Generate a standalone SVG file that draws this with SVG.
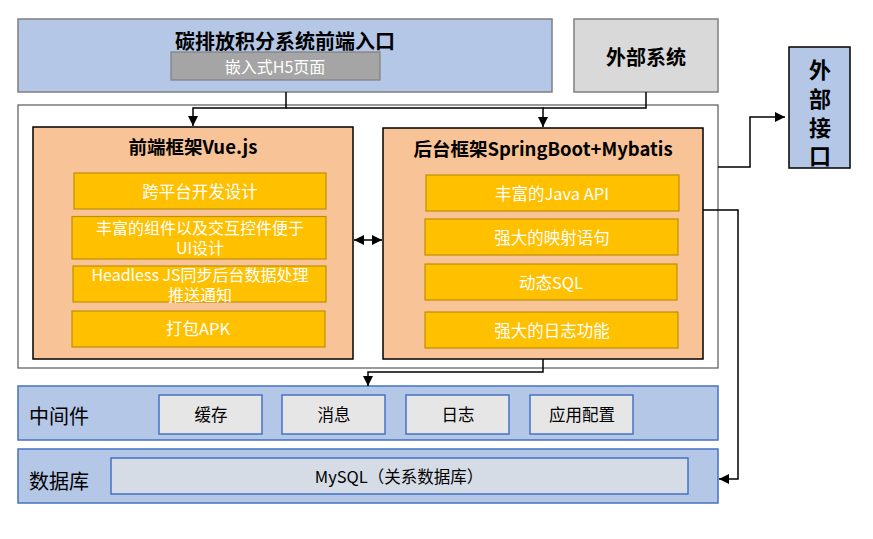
<svg xmlns="http://www.w3.org/2000/svg" width="873" height="539" viewBox="0 0 873 539">
<defs>
<marker id="ah" markerUnits="userSpaceOnUse" markerWidth="12" markerHeight="12" viewBox="0 0 12 12" refX="11" refY="6" orient="auto-start-reverse">
<path d="M1,1 L11,6 L1,11 Z" fill="#000"/>
</marker>
</defs>
<style>
text{font-family:"Microsoft YaHei","Noto Sans CJK SC","Noto Sans",sans-serif;text-anchor:middle;dominant-baseline:central}
.band{fill:#B4C7E7;stroke:#4472C4;stroke-width:1.5}
.gbox{stroke:#7F7F7F;stroke-width:1.5}
.panel{fill:#F8C396;stroke:#000;stroke-width:1.5}
.item{fill:#FFC000;stroke:#BF9000;stroke-width:1.2}
.it{fill:#fff;font-size:16.5px}
.it2{fill:#fff;font-size:16px}
.ttl{font-weight:bold;fill:#000}
.mid{fill:#E7E6E6;stroke:#4472C4;stroke-width:1.5}
.mt{font-size:16.5px;fill:#000}
.conn{fill:none;stroke:#000;stroke-width:1.5}
</style>
<g id="frontend-entry">
<rect x="18" y="19" width="534" height="73" class="gbox" fill="#B4C7E7"/>
<text x="285" y="40" class="ttl" font-size="20">碳排放积分系统前端入口</text>
<rect x="171" y="52" width="209" height="28" fill="#A5A5A5" stroke="#7F7F7F" stroke-width="1.2"/>
<text x="275" y="66" font-size="16" fill="#fff">嵌入式H5页面</text>
</g>
<g id="external-system">
<rect x="574" y="19" width="144" height="73" class="gbox" fill="#D9D9D9"/>
<text x="646" y="56" class="ttl" font-size="20">外部系统</text>
</g>
<g id="external-interface">
<rect x="789" y="47" width="61" height="121" fill="#B4C7E7" stroke="#000" stroke-width="1.5"/>
<text x="820" y="68" class="ttl" font-size="22">外</text>
<text x="820" y="97" class="ttl" font-size="22">部</text>
<text x="820" y="126" class="ttl" font-size="22">接</text>
<text x="820" y="154" class="ttl" font-size="22">口</text>
</g>
<g id="app-container">
<rect x="18" y="105" width="700" height="263" fill="#fff" stroke="#595959" stroke-width="1.2"/>
</g>
<g id="vue-frontend">
<rect x="33" y="127" width="320" height="232" class="panel"/>
<text x="193" y="146" class="ttl" font-size="18.5">前端框架Vue.js</text>
<rect x="74" y="173" width="252" height="36" class="item"/>
<text x="200" y="191" class="it">跨平台开发设计</text>
<rect x="72" y="216.5" width="254" height="42.5" class="item"/>
<text x="200" y="227" class="it2">丰富的组件以及交互控件便于</text>
<text x="200" y="247" class="it2">UI设计</text>
<rect x="73" y="266" width="253" height="36" class="item"/>
<text x="200" y="274" class="it2">Headless JS同步后台数据处理</text>
<text x="200" y="294" class="it2">推送通知</text>
<rect x="72" y="311" width="253" height="36" class="item"/>
<text x="198" y="328" class="it">打包APK</text>
</g>
<g id="springboot-backend">
<rect x="383" y="128" width="320" height="231" class="panel"/>
<text x="543" y="148" class="ttl" font-size="18.5">后台框架SpringBoot+Mybatis</text>
<rect x="426" y="175" width="253" height="36" class="item"/>
<text x="552" y="193" class="it">丰富的Java API</text>
<rect x="425" y="219" width="253" height="36" class="item"/>
<text x="552" y="237" class="it">强大的映射语句</text>
<rect x="425" y="264" width="252" height="36" class="item"/>
<text x="551" y="282" class="it">动态SQL</text>
<rect x="425" y="312" width="253" height="36" class="item"/>
<text x="552" y="330" class="it">强大的日志功能</text>
</g>
<g id="middleware">
<rect x="18" y="386" width="700" height="54" class="band"/>
<text x="59" y="415" font-size="20" fill="#000">中间件</text>
<rect x="159" y="395" width="103" height="39" class="mid"/>
<text x="211" y="414" class="mt">缓存</text>
<rect x="282" y="395" width="103" height="39" class="mid"/>
<text x="334" y="414" class="mt">消息</text>
<rect x="406" y="395" width="103" height="39" class="mid"/>
<text x="458" y="414" class="mt">日志</text>
<rect x="530" y="395" width="103" height="39" class="mid"/>
<text x="582" y="414" class="mt">应用配置</text>
</g>
<g id="database">
<rect x="18" y="449" width="700" height="54" class="band"/>
<text x="59" y="480" font-size="20" fill="#000">数据库</text>
<rect x="111" y="458" width="577" height="36" fill="#D6DCE5" stroke="#4472C4" stroke-width="1.5"/>
<text x="399" y="476" class="mt">MySQL（关系数据库）</text>
</g>
<g id="connectors">
<path d="M286,92 V108 H193 V126" class="conn" marker-end="url(#ah)"/>
<path d="M286,108 H543 V127" class="conn" marker-end="url(#ah)"/>
<path d="M646,92 V108 H543" class="conn"/>
<path d="M354,240 H382" class="conn" marker-start="url(#ah)" marker-end="url(#ah)"/>
<path d="M718,167 H750 V117 H785" class="conn" marker-end="url(#ah)"/>
<path d="M703,210 H738 V479 H719" class="conn" marker-end="url(#ah)"/>
<path d="M543,359 V372 H368 V386" class="conn" marker-end="url(#ah)"/>
</g>
</svg>
